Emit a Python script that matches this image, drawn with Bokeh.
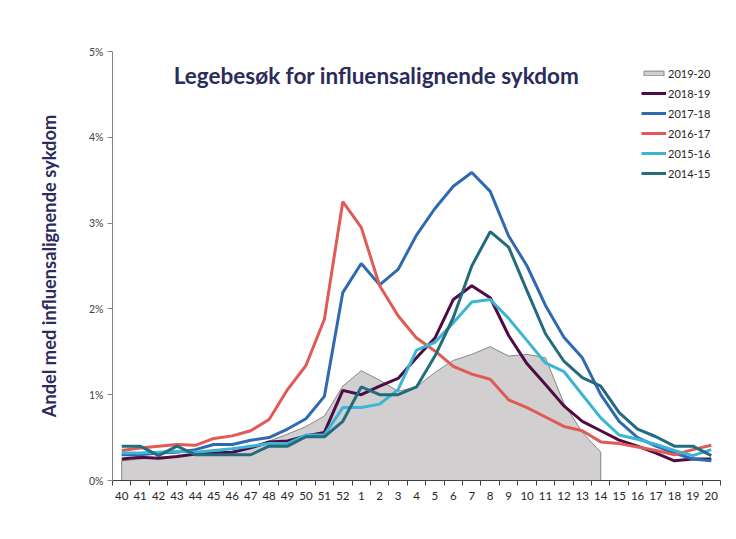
from bokeh.plotting import figure
from bokeh.models import FixedTicker, Legend, LegendItem, Label, Range1d
from bokeh.embed import file_html
from bokeh.resources import INLINE

weeks = [40, 41, 42, 43, 44, 45, 46, 47, 48, 49, 50, 51, 52,
         1, 2, 3, 4, 5, 6, 7, 8, 9, 10, 11, 12, 13, 14, 15, 16, 17, 18, 19, 20]

s2019_20 = [0.23, 0.25, 0.27, 0.28, 0.30, 0.32, 0.34, 0.39, 0.46, 0.54, 0.63, 0.75, 1.10,
            1.28, 1.17, 1.04, 1.09, 1.26, 1.40, 1.47, 1.56, 1.45, 1.47, 1.43, 0.90, 0.56, 0.33]
s2018_19 = [0.25, 0.27, 0.26, 0.28, 0.31, 0.32, 0.33, 0.38, 0.45, 0.46, 0.52, 0.56, 1.05,
            1.00, 1.10, 1.19, 1.43, 1.66, 2.11, 2.27, 2.13, 1.69, 1.36, 1.12, 0.87, 0.69, 0.58,
            0.47, 0.40, 0.32, 0.23, 0.25, 0.25]
s2017_18 = [0.30, 0.30, 0.32, 0.33, 0.36, 0.42, 0.42, 0.47, 0.50, 0.60, 0.72, 0.98, 2.19,
            2.53, 2.28, 2.46, 2.86, 3.17, 3.43, 3.59, 3.37, 2.85, 2.50, 2.04, 1.67, 1.43, 1.00,
            0.69, 0.50, 0.40, 0.32, 0.25, 0.23]
s2016_17 = [0.35, 0.38, 0.40, 0.42, 0.41, 0.49, 0.52, 0.58, 0.71, 1.06, 1.34, 1.88, 3.25,
            2.95, 2.27, 1.92, 1.66, 1.51, 1.33, 1.24, 1.18, 0.94, 0.85, 0.74, 0.63, 0.58, 0.45,
            0.43, 0.39, 0.35, 0.30, 0.36, 0.41]
s2015_16 = [0.32, 0.32, 0.33, 0.34, 0.33, 0.35, 0.37, 0.40, 0.43, 0.43, 0.53, 0.53, 0.85,
            0.85, 0.89, 1.06, 1.52, 1.61, 1.84, 2.08, 2.11, 1.89, 1.63, 1.37, 1.27, 1.00, 0.73,
            0.53, 0.48, 0.42, 0.35, 0.29, 0.36]
s2014_15 = [0.40, 0.40, 0.29, 0.40, 0.30, 0.30, 0.30, 0.30, 0.40, 0.40, 0.51, 0.51, 0.69,
            1.09, 1.00, 1.00, 1.09, 1.45, 1.90, 2.50, 2.90, 2.72, 2.21, 1.71, 1.39, 1.20, 1.10,
            0.79, 0.60, 0.51, 0.40, 0.40, 0.29]

y_ticks = [0, 1, 2, 3, 4, 5]
y_tick_labels = ["0%", "1%", "2%", "3%", "4%", "5%"]

series = [
    ("2018-19", s2018_19, "#4f0c44"),
    ("2017-18", s2017_18, "#2f69b1"),
    ("2016-17", s2016_17, "#e05a56"),
    ("2015-16", s2015_16, "#3cb5d5"),
    ("2014-15", s2014_15, "#226c7d"),
]

TITLE = "Legebesøk for influensalignende sykdom"
NAVY = "#2b2b5c"
FONT = "Lato"

idx = list(range(len(weeks)))

p = figure(width=728, height=530, output_backend="svg", toolbar_location=None,
           x_range=Range1d(-0.5, len(weeks) - 0.5), y_range=Range1d(0, 5),
           min_border_left=112, min_border_right=8, min_border_top=51, min_border_bottom=50)
p.outline_line_color = None
p.xgrid.grid_line_color = None
p.ygrid.grid_line_color = None
p.background_fill_color = "white"
p.border_fill_color = "white"

# area 2019-20
n = len(s2019_20)
ax = [0] + idx[:n] + [n - 1]
ay = [0] + s2019_20 + [0]
area = p.patch(ax, ay, fill_color="#d1cfd0", line_color="#6e6e6e", line_width=0.8)

renderers = [("2019-20", area)]
for name, vals, col in series:
    r = p.line(idx, vals, line_color=col, line_width=3)
    renderers.append((name, r))

# x axis
p.xaxis.ticker = FixedTicker(ticks=idx, minor_ticks=[i - 0.5 for i in range(len(weeks) + 1)])
p.xaxis.major_label_overrides = {i: str(w) for i, w in enumerate(weeks)}
p.xaxis.major_tick_out = 0
p.xaxis.major_tick_in = 0
p.xaxis.minor_tick_out = 5
p.xaxis.minor_tick_in = 0
p.xaxis.minor_tick_line_color = "#404040"
p.xaxis.axis_line_color = "#404040"
p.xaxis.major_label_standoff = 6
p.xaxis.major_label_text_font = FONT
p.xaxis.major_label_text_font_size = "11.5px"
p.xaxis.major_label_text_color = "#262626"

# y axis
p.yaxis.ticker = FixedTicker(ticks=y_ticks, minor_ticks=[])
p.yaxis.major_label_overrides = {t: l for t, l in zip(y_ticks, y_tick_labels)}
p.yaxis.major_tick_out = 5
p.yaxis.major_tick_in = 0
p.yaxis.major_tick_line_color = "#868686"
p.yaxis.axis_line_color = "#868686"
p.yaxis.major_label_standoff = 4
p.yaxis.major_label_text_font = FONT
p.yaxis.major_label_text_font_size = "10.5px"
p.yaxis.major_label_text_color = "#404040"
p.yaxis.axis_label = "Andel med influensalignende sykdom"
p.yaxis.axis_label_text_font = FONT
p.yaxis.axis_label_text_font_style = "bold"
p.yaxis.axis_label_text_font_size = "18.3px"
p.yaxis.axis_label_text_color = NAVY
p.yaxis.axis_label_standoff = 26

title = Label(x=(len(weeks) - 1) / 2, y=4.72, x_offset=-40,
              text=TITLE,
              text_font=FONT, text_font_style="bold", text_font_size="22.5px",
              text_color=NAVY, text_align="center", text_baseline="middle")
p.add_layout(title)

legend = Legend(items=[LegendItem(label=nm, renderers=[r]) for nm, r in renderers],
                location=(529, 300), orientation="vertical",
                glyph_width=25, glyph_height=6, label_height=14, spacing=6,
                padding=0, margin=0, label_standoff=2,
                label_text_font=FONT, label_text_font_size="11px",
                label_text_color="#262626",
                border_line_color=None, background_fill_alpha=0)
p.add_layout(legend)

open("out.html", "w").write(file_html(p, INLINE))
